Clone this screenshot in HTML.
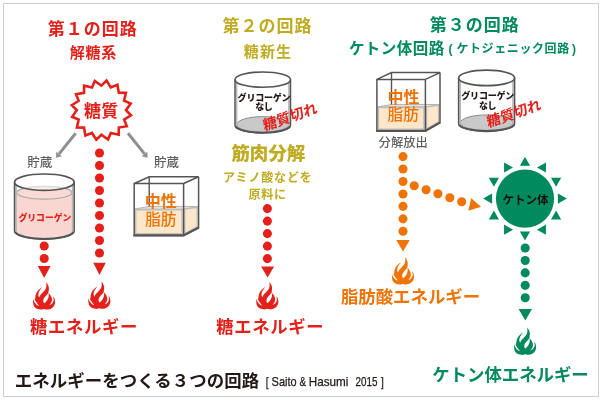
<!DOCTYPE html>
<html lang="ja"><head><meta charset="utf-8"><title>エネルギーをつくる３つの回路</title>
<style>html,body{margin:0;padding:0;background:#fff}svg{display:block;will-change:transform}text{font-family:"Liberation Sans","Noto Sans CJK JP",sans-serif;white-space:pre}</style>
</head><body>
<svg width="600" height="400" viewBox="0 0 600 400">
<rect x="3.5" y="3.5" width="595" height="393" fill="#fff" stroke="#cfcfcf" stroke-width="1"/>
<text x="92.8" y="34.6" font-size="17" fill="#e3211a" font-weight="700" text-anchor="middle" letter-spacing="1">第１の回路</text>
<text x="93.4" y="58" font-size="15" fill="#e3211a" font-weight="700" text-anchor="middle" letter-spacing="0.7">解糖系</text>
<polygon points="101.40,85.60 106.48,80.63 110.81,87.47 117.41,84.83 118.79,92.81 125.90,92.89 124.13,100.79 130.66,103.58 126.00,110.20 130.97,115.28 124.13,119.61 126.77,126.21 118.79,127.59 118.71,134.70 110.81,132.93 108.02,139.46 101.40,134.80 96.32,139.77 91.99,132.93 85.39,135.57 84.01,127.59 76.90,127.51 78.67,119.61 72.14,116.82 76.80,110.20 71.83,105.12 78.67,100.79 76.03,94.19 84.01,92.81 84.09,85.70 91.99,87.47 94.78,80.94" fill="#fff" stroke="#e3211a" stroke-width="2.6" stroke-linejoin="miter"/>
<text x="101.2" y="116.9" font-size="17" fill="#e3211a" font-weight="700" text-anchor="middle" letter-spacing="0.2">糖質</text>
<path d="M75.70 133.30L59.08 153.89" stroke="#8f8f8f" stroke-width="3" fill="none"/>
<path d="M56.00 157.70L56.28 151.63L61.88 156.15Z" fill="#8f8f8f"/>
<path d="M128.00 133.30L144.53 153.88" stroke="#8f8f8f" stroke-width="3" fill="none"/>
<path d="M147.60 157.70L141.72 156.13L147.34 151.63Z" fill="#8f8f8f"/>
<text x="39.8" y="166.5" font-size="12.5" fill="#5f5f5f" font-weight="500" text-anchor="middle">貯蔵</text>
<text x="166.5" y="166.5" font-size="12.5" fill="#5f5f5f" font-weight="500" text-anchor="middle">貯蔵</text>
<circle cx="99.50" cy="153.00" r="4.55" fill="#e3211a"/>
<circle cx="99.50" cy="165.50" r="4.55" fill="#e3211a"/>
<circle cx="99.50" cy="178.00" r="4.55" fill="#e3211a"/>
<circle cx="99.50" cy="190.50" r="4.55" fill="#e3211a"/>
<circle cx="99.50" cy="203.00" r="4.55" fill="#e3211a"/>
<circle cx="99.50" cy="215.50" r="4.55" fill="#e3211a"/>
<circle cx="99.50" cy="228.00" r="4.55" fill="#e3211a"/>
<circle cx="99.50" cy="240.50" r="4.55" fill="#e3211a"/>
<circle cx="99.50" cy="253.00" r="4.55" fill="#e3211a"/>
<path d="M93.25 262.8H105.75L99.5 275Z" fill="#e3211a"/>
<path transform="translate(88.15 281.6) scale(1.0)" d="M13.2 0C14.5 1.2 15.6 2.8 15.9 5C16.2 7 15.9 9 15.4 10.6L16.4 11.4C17.5 12.5 18.6 14.2 19.1 16.5C19.3 18.5 18.6 20.8 16.5 22.9C18.7 22.2 20.4 20.5 20.8 18.2C20.9 16.7 20.8 15.4 20.4 14.1C21.5 15 22.1 17 22.3 19.5C22.4 22 21.2 24.4 19.2 25.6C17.6 26.6 15.2 27.5 13.4 27.2C12.4 27 11.5 26.6 10.8 26.7C9.8 27.2 8.5 27.4 7.3 27.2C5.5 26.9 4.2 26.6 3.6 26.2C2 25 1.2 24 1 23.7C0.2 21.5 0 19 0.3 16.7C0.8 18.7 2 20.8 3.4 22.1C4.4 23 5.3 23.4 6.1 23.4C4.7 21.8 3.1 19.6 1.8 17.3C1.9 17 2.2 16.5 2.4 16C2.4 14 2.9 11.8 4.1 9.7C5.2 8 7 6.2 9.4 5C7.8 6.6 6.4 8.6 5.8 10.5C5.2 12.4 5.4 14 6.4 15.2C6.8 13.4 7.9 12 9 11.1C10.5 9.8 12.2 7.8 13.1 5.9C13.7 4.2 13.8 2 13.2 0ZM15.5 10.6C14.4 12.4 12 14.2 11.1 16C10.2 17.8 10.1 19.8 11.3 20.9C12.9 20.2 14.4 18.2 15.2 16.2C16 14.2 16.3 12.4 15.5 10.6Z" fill="#e3211a" fill-rule="evenodd"/>
<path d="M14.5 182.20875V231.09125A29.85 8.20875 0 0 0 74.2 231.09125V182.20875Z" fill="#fff"/><path d="M16.7 192.7V230.59125A27.650000000000002 6.70875 0 0 0 72.0 230.59125V192.7Z" fill="#f9d6cf"/><ellipse cx="44.35" cy="192.7" rx="27.650000000000002" ry="6.4148000000000005" fill="#fadbd4" stroke="#a8a8a8" stroke-width="1.2"/><path d="M16.1 184.20875V231.09125A28.25 7.20875 0 0 0 72.60000000000001 231.09125V184.20875" fill="none" stroke="#b9b9b9" stroke-width="1.6"/><path d="M14.5 182.20875V231.09125A29.85 8.20875 0 0 0 74.2 231.09125V182.20875" fill="none" stroke="#555" stroke-width="1.5"/><path d="M15.0 232.09125A29.85 8.20875 0 0 0 73.7 232.09125" fill="none" stroke="#555" stroke-width="1.8"/><ellipse cx="44.35" cy="182.20875" rx="29.85" ry="8.20875" fill="#fff" fill-opacity="0.55" stroke="#555" stroke-width="1.7"/>
<text x="44.9" y="221.3" font-size="8.8" fill="#e3211a" font-weight="900" text-anchor="middle">グリコーゲン</text>
<circle cx="44.20" cy="246.00" r="4.55" fill="#e3211a"/>
<circle cx="44.20" cy="258.50" r="4.55" fill="#e3211a"/>
<path d="M37.80 266H50.60L44.2 278Z" fill="#e3211a"/>
<path transform="translate(32.85 282.3) scale(1.0)" d="M13.2 0C14.5 1.2 15.6 2.8 15.9 5C16.2 7 15.9 9 15.4 10.6L16.4 11.4C17.5 12.5 18.6 14.2 19.1 16.5C19.3 18.5 18.6 20.8 16.5 22.9C18.7 22.2 20.4 20.5 20.8 18.2C20.9 16.7 20.8 15.4 20.4 14.1C21.5 15 22.1 17 22.3 19.5C22.4 22 21.2 24.4 19.2 25.6C17.6 26.6 15.2 27.5 13.4 27.2C12.4 27 11.5 26.6 10.8 26.7C9.8 27.2 8.5 27.4 7.3 27.2C5.5 26.9 4.2 26.6 3.6 26.2C2 25 1.2 24 1 23.7C0.2 21.5 0 19 0.3 16.7C0.8 18.7 2 20.8 3.4 22.1C4.4 23 5.3 23.4 6.1 23.4C4.7 21.8 3.1 19.6 1.8 17.3C1.9 17 2.2 16.5 2.4 16C2.4 14 2.9 11.8 4.1 9.7C5.2 8 7 6.2 9.4 5C7.8 6.6 6.4 8.6 5.8 10.5C5.2 12.4 5.4 14 6.4 15.2C6.8 13.4 7.9 12 9 11.1C10.5 9.8 12.2 7.8 13.1 5.9C13.7 4.2 13.8 2 13.2 0ZM15.5 10.6C14.4 12.4 12 14.2 11.1 16C10.2 17.8 10.1 19.8 11.3 20.9C12.9 20.2 14.4 18.2 15.2 16.2C16 14.2 16.3 12.4 15.5 10.6Z" fill="#e3211a" fill-rule="evenodd"/>
<path d="M134.2 209.2L149.2 206.4H198.6V227.4L183.6 235.4H134.2Z" fill="#fde7cb"/><path d="M134.2 209.2L149.2 206.4H198.6L183.6 209.2Z" fill="#e9e2d8" stroke="#b5b5b5" stroke-width="1"/><path d="M135.7 209.7H182.1V233.6H135.7Z" fill="#fde7cb" stroke="#bdbdbd" stroke-width="1.4"/><path d="M184.79999999999998 209.2L197.1 207.4V226.4L184.79999999999998 233.4Z" fill="#fde7cb" stroke="#bdbdbd" stroke-width="1.2"/><path d="M149.2 176.8V206.4" fill="none" stroke="#555" stroke-width="1.4"/><path d="M134.2 183.5H183.6V235.4H134.2ZM134.2 183.5L149.2 176.8H198.6L183.6 183.5M198.6 176.8V227.4L183.6 235.4" fill="none" stroke="#555" stroke-width="1.5" stroke-linejoin="miter"/><path d="M133.5 235.4H183.6L199.0 227.4" fill="none" stroke="#555" stroke-width="2.2"/>
<text x="160.8" y="206.8" font-size="16" fill="#ee7408" font-weight="700" text-anchor="middle">中性</text>
<text x="160.8" y="224.6" font-size="15.6" fill="#ee7408" font-weight="500" text-anchor="middle">脂肪</text>
<text x="84" y="333.4" font-size="17.3" fill="#e3211a" font-weight="700" text-anchor="middle" letter-spacing="0.7">糖エネルギー</text>
<text x="267.5" y="32" font-size="17" fill="#bfac22" font-weight="700" text-anchor="middle" letter-spacing="1">第２の回路</text>
<text x="268" y="57.2" font-size="15" fill="#bfac22" font-weight="700" text-anchor="middle" letter-spacing="1.2">糖新生</text>
<path d="M235 79.63125V125.36875A27.75 7.6312500000000005 0 0 0 290.5 125.36875V79.63125Z" fill="#fff"/><ellipse cx="262.75" cy="124.46875" rx="25.95" ry="7.831250000000001" fill="#c9c9c9" stroke="#8a8a8a" stroke-width="1"/><path d="M236.6 81.63125V125.36875A26.15 6.6312500000000005 0 0 0 288.9 125.36875V81.63125" fill="none" stroke="#b9b9b9" stroke-width="1.6"/><path d="M235 79.63125V125.36875A27.75 7.6312500000000005 0 0 0 290.5 125.36875V79.63125" fill="none" stroke="#555" stroke-width="1.5"/><path d="M235.5 126.36875A27.75 7.6312500000000005 0 0 0 290.0 126.36875" fill="none" stroke="#555" stroke-width="1.8"/><ellipse cx="262.75" cy="79.63125" rx="27.75" ry="7.6312500000000005" fill="#fff" fill-opacity="0.55" stroke="#555" stroke-width="1.7"/>
<text x="264" y="100.6" font-size="9" fill="#231815" font-weight="900" text-anchor="middle" letter-spacing="-0.2">グリコーゲン</text>
<text x="263.8" y="109.8" font-size="9" fill="#231815" font-weight="900" text-anchor="middle" letter-spacing="-0.5">なし</text>
<text transform="translate(264.2 131) rotate(-19) skewX(-8)" font-size="14.2" font-weight="700" fill="#e3211a">糖質切れ</text>
<text x="268.2" y="160.3" font-size="18.5" fill="#bfac22" font-weight="900" text-anchor="middle">筋肉分解</text>
<text x="267.8" y="182" font-size="12" fill="#bfac22" font-weight="700" text-anchor="middle" letter-spacing="0.85">アミノ酸などを</text>
<text x="267.7" y="199.2" font-size="12" fill="#bfac22" font-weight="700" text-anchor="middle" letter-spacing="0.8">原料に</text>
<circle cx="267.40" cy="208.60" r="4.55" fill="#e3211a"/>
<circle cx="267.40" cy="221.10" r="4.55" fill="#e3211a"/>
<circle cx="267.40" cy="233.60" r="4.55" fill="#e3211a"/>
<circle cx="267.40" cy="246.10" r="4.55" fill="#e3211a"/>
<circle cx="267.40" cy="258.60" r="4.55" fill="#e3211a"/>
<path d="M261.10 266.5H274.10L267.6 277.6Z" fill="#e3211a"/>
<path transform="translate(256.05 282.1) scale(1.0)" d="M13.2 0C14.5 1.2 15.6 2.8 15.9 5C16.2 7 15.9 9 15.4 10.6L16.4 11.4C17.5 12.5 18.6 14.2 19.1 16.5C19.3 18.5 18.6 20.8 16.5 22.9C18.7 22.2 20.4 20.5 20.8 18.2C20.9 16.7 20.8 15.4 20.4 14.1C21.5 15 22.1 17 22.3 19.5C22.4 22 21.2 24.4 19.2 25.6C17.6 26.6 15.2 27.5 13.4 27.2C12.4 27 11.5 26.6 10.8 26.7C9.8 27.2 8.5 27.4 7.3 27.2C5.5 26.9 4.2 26.6 3.6 26.2C2 25 1.2 24 1 23.7C0.2 21.5 0 19 0.3 16.7C0.8 18.7 2 20.8 3.4 22.1C4.4 23 5.3 23.4 6.1 23.4C4.7 21.8 3.1 19.6 1.8 17.3C1.9 17 2.2 16.5 2.4 16C2.4 14 2.9 11.8 4.1 9.7C5.2 8 7 6.2 9.4 5C7.8 6.6 6.4 8.6 5.8 10.5C5.2 12.4 5.4 14 6.4 15.2C6.8 13.4 7.9 12 9 11.1C10.5 9.8 12.2 7.8 13.1 5.9C13.7 4.2 13.8 2 13.2 0ZM15.5 10.6C14.4 12.4 12 14.2 11.1 16C10.2 17.8 10.1 19.8 11.3 20.9C12.9 20.2 14.4 18.2 15.2 16.2C16 14.2 16.3 12.4 15.5 10.6Z" fill="#e3211a" fill-rule="evenodd"/>
<text x="270.2" y="333.4" font-size="17.3" fill="#e3211a" font-weight="700" text-anchor="middle" letter-spacing="0.7">糖エネルギー</text>
<text x="474.7" y="31.2" font-size="17" fill="#008a5e" font-weight="700" text-anchor="middle" letter-spacing="1">第３の回路</text>
<text x="348.9" y="54" font-size="15.5" fill="#008a5e" font-weight="700" text-anchor="start" letter-spacing="0.45">ケトン体回路</text>
<text x="448.4" y="53.3" font-size="12" fill="#008a5e" font-weight="700" text-anchor="start" letter-spacing="0.6">(<tspan x="456.4">ケトジェニック回路</tspan><tspan dx="2.2">)</tspan></text>
<path d="M376.9 107L391.5 104.5H440.0V122.4L425.4 130.9H376.9Z" fill="#fde7cb"/><path d="M376.9 107L391.5 104.5H440.0L425.4 107Z" fill="#e9e2d8" stroke="#b5b5b5" stroke-width="1"/><path d="M378.4 107.5H423.9V129.1H378.4Z" fill="#fde7cb" stroke="#bdbdbd" stroke-width="1.4"/><path d="M426.59999999999997 107L438.5 105.5V121.4L426.59999999999997 128.9Z" fill="#fde7cb" stroke="#bdbdbd" stroke-width="1.2"/><path d="M391.5 72.60000000000001V104.5" fill="none" stroke="#555" stroke-width="1.4"/><path d="M376.9 79.4H425.4V130.9H376.9ZM376.9 79.4L391.5 72.60000000000001H440.0L425.4 79.4M440.0 72.60000000000001V122.4L425.4 130.9" fill="none" stroke="#555" stroke-width="1.5" stroke-linejoin="miter"/><path d="M376.2 130.9H425.4L440.4 122.4" fill="none" stroke="#555" stroke-width="2.2"/>
<text x="403.4" y="102.6" font-size="16" fill="#ee7408" font-weight="700" text-anchor="middle">中性</text>
<text x="403.2" y="120.2" font-size="15.6" fill="#ee7408" font-weight="500" text-anchor="middle">脂肪</text>
<path d="M458.6 77.9V123.7A28.0 7.700000000000001 0 0 0 514.6 123.7V77.9Z" fill="#fff"/><ellipse cx="486.6" cy="122.8" rx="26.2" ry="7.900000000000001" fill="#c9c9c9" stroke="#8a8a8a" stroke-width="1"/><path d="M460.20000000000005 79.9V123.7A26.4 6.700000000000001 0 0 0 513.0 123.7V79.9" fill="none" stroke="#b9b9b9" stroke-width="1.6"/><path d="M458.6 77.9V123.7A28.0 7.700000000000001 0 0 0 514.6 123.7V77.9" fill="none" stroke="#555" stroke-width="1.5"/><path d="M459.1 124.7A28.0 7.700000000000001 0 0 0 514.1 124.7" fill="none" stroke="#555" stroke-width="1.8"/><ellipse cx="486.6" cy="77.9" rx="28.0" ry="7.700000000000001" fill="#fff" fill-opacity="0.55" stroke="#555" stroke-width="1.7"/>
<text x="487.7" y="99.2" font-size="9" fill="#231815" font-weight="900" text-anchor="middle" letter-spacing="-0.2">グリコーゲン</text>
<text x="487.4" y="108.6" font-size="9" fill="#231815" font-weight="900" text-anchor="middle" letter-spacing="-0.5">なし</text>
<text transform="translate(488 127.6) rotate(-19) skewX(-8)" font-size="14.2" font-weight="700" fill="#e3211a">糖質切れ</text>
<text x="403.2" y="147" font-size="12.3" fill="#5f5f5f" font-weight="500" text-anchor="middle">分解放出</text>
<circle cx="403.00" cy="156.60" r="4.55" fill="#ee7408"/>
<circle cx="403.00" cy="169.05" r="4.55" fill="#ee7408"/>
<circle cx="403.00" cy="181.50" r="4.55" fill="#ee7408"/>
<circle cx="403.00" cy="193.95" r="4.55" fill="#ee7408"/>
<circle cx="403.00" cy="206.40" r="4.55" fill="#ee7408"/>
<circle cx="403.00" cy="218.85" r="4.55" fill="#ee7408"/>
<circle cx="403.00" cy="231.30" r="4.55" fill="#ee7408"/>
<path d="M396.30 239.9H409.70L403 251.6Z" fill="#ee7408"/>
<path transform="translate(391.75 257.2) scale(1.0)" d="M13.2 0C14.5 1.2 15.6 2.8 15.9 5C16.2 7 15.9 9 15.4 10.6L16.4 11.4C17.5 12.5 18.6 14.2 19.1 16.5C19.3 18.5 18.6 20.8 16.5 22.9C18.7 22.2 20.4 20.5 20.8 18.2C20.9 16.7 20.8 15.4 20.4 14.1C21.5 15 22.1 17 22.3 19.5C22.4 22 21.2 24.4 19.2 25.6C17.6 26.6 15.2 27.5 13.4 27.2C12.4 27 11.5 26.6 10.8 26.7C9.8 27.2 8.5 27.4 7.3 27.2C5.5 26.9 4.2 26.6 3.6 26.2C2 25 1.2 24 1 23.7C0.2 21.5 0 19 0.3 16.7C0.8 18.7 2 20.8 3.4 22.1C4.4 23 5.3 23.4 6.1 23.4C4.7 21.8 3.1 19.6 1.8 17.3C1.9 17 2.2 16.5 2.4 16C2.4 14 2.9 11.8 4.1 9.7C5.2 8 7 6.2 9.4 5C7.8 6.6 6.4 8.6 5.8 10.5C5.2 12.4 5.4 14 6.4 15.2C6.8 13.4 7.9 12 9 11.1C10.5 9.8 12.2 7.8 13.1 5.9C13.7 4.2 13.8 2 13.2 0ZM15.5 10.6C14.4 12.4 12 14.2 11.1 16C10.2 17.8 10.1 19.8 11.3 20.9C12.9 20.2 14.4 18.2 15.2 16.2C16 14.2 16.3 12.4 15.5 10.6Z" fill="#ee7408" fill-rule="evenodd"/>
<circle cx="414.20" cy="185.80" r="4.55" fill="#ee7408"/>
<circle cx="426.07" cy="189.77" r="4.55" fill="#ee7408"/>
<circle cx="437.94" cy="193.74" r="4.55" fill="#ee7408"/>
<circle cx="449.81" cy="197.71" r="4.55" fill="#ee7408"/>
<circle cx="461.68" cy="201.68" r="4.55" fill="#ee7408"/>
<path d="M471.2 198.3L468.3 210.8L481 206.8Z" fill="#ee7408"/>
<text x="410.5" y="302.8" font-size="17.4" fill="#ee7408" font-weight="700" text-anchor="middle">脂肪酸エネルギー</text>
<circle cx="525" cy="198.6" r="29.1" fill="#008a5e"/>
<path transform="translate(525.00 162.70) rotate(0)" d="M0 -6L5.1 3H-5.1Z" fill="#008a5e"/>
<path transform="translate(542.95 167.51) rotate(-90)" d="M0 -6L5.1 3H-5.1Z" fill="#008a5e"/>
<path transform="translate(556.09 180.65) rotate(-180)" d="M0 -6L5.1 3H-5.1Z" fill="#008a5e"/>
<path transform="translate(560.90 198.60) rotate(-270)" d="M0 -6L5.1 3H-5.1Z" fill="#008a5e"/>
<path transform="translate(556.09 216.55) rotate(-360)" d="M0 -6L5.1 3H-5.1Z" fill="#008a5e"/>
<path transform="translate(542.95 229.69) rotate(-450)" d="M0 -6L5.1 3H-5.1Z" fill="#008a5e"/>
<path transform="translate(525.00 234.50) rotate(-540)" d="M0 -6L5.1 3H-5.1Z" fill="#008a5e"/>
<path transform="translate(507.05 229.69) rotate(-630)" d="M0 -6L5.1 3H-5.1Z" fill="#008a5e"/>
<path transform="translate(493.91 216.55) rotate(-720)" d="M0 -6L5.1 3H-5.1Z" fill="#008a5e"/>
<path transform="translate(489.10 198.60) rotate(-810)" d="M0 -6L5.1 3H-5.1Z" fill="#008a5e"/>
<path transform="translate(493.91 180.65) rotate(-900)" d="M0 -6L5.1 3H-5.1Z" fill="#008a5e"/>
<path transform="translate(507.05 167.51) rotate(-990)" d="M0 -6L5.1 3H-5.1Z" fill="#008a5e"/>
<text x="525.6" y="204.4" font-size="11.6" fill="#111" font-weight="700" text-anchor="middle" letter-spacing="-0.1">ケトン体</text>
<circle cx="525.20" cy="248.00" r="4.55" fill="#008a5e"/>
<circle cx="525.20" cy="260.45" r="4.55" fill="#008a5e"/>
<circle cx="525.20" cy="272.90" r="4.55" fill="#008a5e"/>
<circle cx="525.20" cy="285.35" r="4.55" fill="#008a5e"/>
<circle cx="525.20" cy="297.80" r="4.55" fill="#008a5e"/>
<path d="M518.60 309H532.00L525.3 320.6Z" fill="#008a5e"/>
<path transform="translate(513.85 327.6) scale(1.0)" d="M13.2 0C14.5 1.2 15.6 2.8 15.9 5C16.2 7 15.9 9 15.4 10.6L16.4 11.4C17.5 12.5 18.6 14.2 19.1 16.5C19.3 18.5 18.6 20.8 16.5 22.9C18.7 22.2 20.4 20.5 20.8 18.2C20.9 16.7 20.8 15.4 20.4 14.1C21.5 15 22.1 17 22.3 19.5C22.4 22 21.2 24.4 19.2 25.6C17.6 26.6 15.2 27.5 13.4 27.2C12.4 27 11.5 26.6 10.8 26.7C9.8 27.2 8.5 27.4 7.3 27.2C5.5 26.9 4.2 26.6 3.6 26.2C2 25 1.2 24 1 23.7C0.2 21.5 0 19 0.3 16.7C0.8 18.7 2 20.8 3.4 22.1C4.4 23 5.3 23.4 6.1 23.4C4.7 21.8 3.1 19.6 1.8 17.3C1.9 17 2.2 16.5 2.4 16C2.4 14 2.9 11.8 4.1 9.7C5.2 8 7 6.2 9.4 5C7.8 6.6 6.4 8.6 5.8 10.5C5.2 12.4 5.4 14 6.4 15.2C6.8 13.4 7.9 12 9 11.1C10.5 9.8 12.2 7.8 13.1 5.9C13.7 4.2 13.8 2 13.2 0ZM15.5 10.6C14.4 12.4 12 14.2 11.1 16C10.2 17.8 10.1 19.8 11.3 20.9C12.9 20.2 14.4 18.2 15.2 16.2C16 14.2 16.3 12.4 15.5 10.6Z" fill="#008a5e" fill-rule="evenodd"/>
<text x="510.5" y="380.9" font-size="17.4" fill="#008a5e" font-weight="700" text-anchor="middle">ケトン体エネルギー</text>
<text x="14.8" y="386.8" font-size="17.4" fill="#231815" font-weight="700" text-anchor="start" letter-spacing="0.1">エネルギーをつくる３つの回路</text>
<text y="386.3" font-size="12.4" fill="#231815" stroke="#231815" stroke-width="0.25" font-weight="400"><tspan x="265.8" textLength="2.8" lengthAdjust="spacingAndGlyphs">[</tspan><tspan x="271.6" textLength="25" lengthAdjust="spacingAndGlyphs">Saito</tspan><tspan x="299.6" textLength="6.6" lengthAdjust="spacingAndGlyphs">&amp;</tspan><tspan x="308.8" textLength="39.6" lengthAdjust="spacingAndGlyphs">Hasumi</tspan><tspan x="355.6" textLength="22" lengthAdjust="spacingAndGlyphs">2015</tspan><tspan x="381" textLength="2.8" lengthAdjust="spacingAndGlyphs">]</tspan></text>
</svg>
</body></html>
